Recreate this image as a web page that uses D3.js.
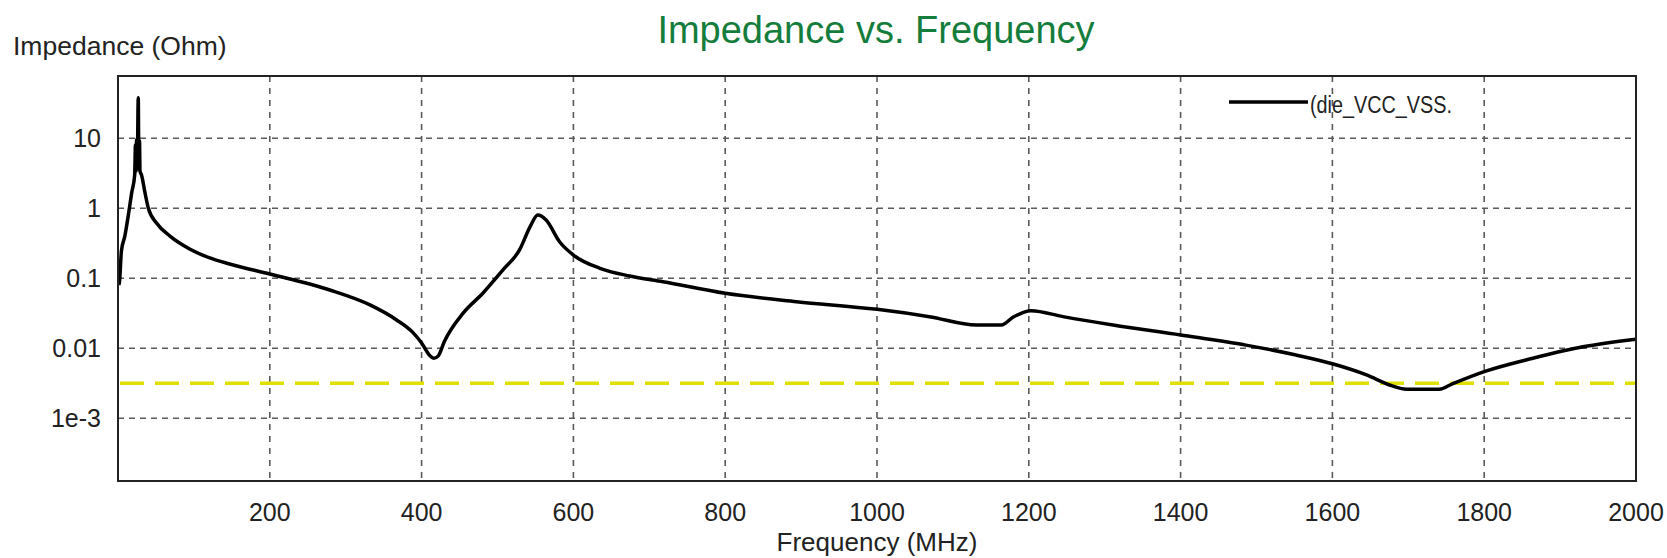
<!DOCTYPE html>
<html>
<head>
<meta charset="utf-8">
<script src="https://cdnjs.cloudflare.com/ajax/libs/d3/7.8.5/d3.min.js"></script>
<style>
  body { margin: 0; background: #fff; }
  svg { display: block; font-family: "Liberation Sans", Arial, sans-serif; }
</style>
</head>
<body>
<div id="chart"></div>
<script>
// frequency points (MHz) and impedance (Ohm)
var freqMHz = [1, 2, 4.5, 9, 13.5, 18, 22, 23, 23.8, 24.5, 25.3, 26.7, 27.5, 28.3, 29, 31, 35.6, 40, 51, 68.5, 95, 121, 147,
  200, 279, 332, 367, 389, 400, 411, 416, 422, 430, 455, 481, 507, 529, 543, 553, 564, 582, 600, 635, 674,
  718, 800, 894, 1000, 1069, 1131, 1164, 1179, 1203, 1245, 1311, 1400, 1486, 1552, 1600, 1644, 1679,
  1697, 1741, 1758, 1800, 1864, 1930, 2000];
var impedance = [0.08, 0.09, 0.245, 0.4, 0.78, 1.66, 3.0, 8, 3.4, 9.5, 3.6, 38, 3.8, 9.2, 3.4, 3.0, 1.66, 1.0, 0.61, 0.4, 0.26, 0.195, 0.16,
  0.115, 0.068, 0.0416, 0.0254, 0.0166, 0.0119, 0.0078, 0.0072, 0.0078, 0.0125, 0.032, 0.0617, 0.131, 0.254, 0.546, 0.8, 0.68, 0.33, 0.215, 0.139, 0.108,
  0.0894, 0.061, 0.0463, 0.036, 0.0283, 0.0215, 0.0215, 0.0277, 0.0344, 0.0283, 0.0215, 0.0155, 0.0111, 0.008, 0.006, 0.0042, 0.0029,
  0.0026, 0.0026, 0.0031, 0.00464, 0.0072, 0.0105, 0.0135];
var targetZ = 0.00316;

var xTicks = [200, 400, 600, 800, 1000, 1200, 1400, 1600, 1800, 2000];
var yTicks = [10, 1, 0.1, 0.01, 0.001];
var yTickLabels = ['10', '1', '0.1', '0.01', '1e-3'];
var seriesName = '(die_VCC_VSS.';

var width = 1667,
    height = 558,
    plotLeft = 118,
    plotRight = 1636,
    plotTop = 76,
    plotBottom = 481;

var svg = d3.select('#chart').append('svg')
    .attr('width', width)
    .attr('height', height);

var x = d3.scaleLinear().domain([0, 2000]).range([plotLeft, plotRight]);
var y = d3.scaleLog().domain([1.27e-4, 77.6]).range([plotBottom, plotTop]);

svg.append('defs').append('clipPath').attr('id', 'plot-clip')
  .append('rect')
    .attr('x', plotLeft).attr('y', plotTop)
    .attr('width', plotRight - plotLeft).attr('height', plotBottom - plotTop);

// grid
var grid = svg.append('g');
grid.selectAll('line.vg')
    .data(xTicks.filter(function(d) { return d < 2000; }))
  .enter().append('line')
    .attr('class', 'vg')
    .attr('x1', function(d) { return x(d); })
    .attr('x2', function(d) { return x(d); })
    .attr('y1', plotTop)
    .attr('y2', plotBottom)
    .style('stroke', '#5a5a5a')
    .style('stroke-width', 1.6)
    .style('stroke-dasharray', '6,6');
grid.selectAll('line.hg')
    .data(yTicks)
  .enter().append('line')
    .attr('class', 'hg')
    .attr('x1', plotLeft)
    .attr('x2', plotRight)
    .attr('y1', function(d) { return y(d); })
    .attr('y2', function(d) { return y(d); })
    .style('stroke', '#5a5a5a')
    .style('stroke-width', 1.6)
    .style('stroke-dasharray', '6,5');

// target impedance line
svg.append('line')
    .attr('x1', plotLeft + 2)
    .attr('x2', plotRight)
    .attr('y1', y(targetZ))
    .attr('y2', y(targetZ))
    .style('stroke', '#e0e000')
    .style('stroke-width', 3.6)
    .style('stroke-dasharray', '24,11');

// curve
var pts = freqMHz.map(function(f, i) { return [f, impedance[i]]; });
var line = d3.line()
    .x(function(d) { return x(d[0]); })
    .y(function(d) { return y(d[1]); })
    .curve(d3.curveMonotoneX);

svg.append('path')
    .datum(pts)
    .attr('clip-path', 'url(#plot-clip)')
    .attr('d', line)
    .style('fill', 'none')
    .style('stroke', '#000')
    .style('stroke-width', 3.5)
    .style('stroke-linejoin', 'round');

// frame
svg.append('rect')
    .attr('x', plotLeft).attr('y', plotTop)
    .attr('width', plotRight - plotLeft).attr('height', plotBottom - plotTop)
    .style('fill', 'none')
    .style('stroke', '#222')
    .style('stroke-width', 2);

// tick labels
svg.selectAll('text.xt')
    .data(xTicks)
  .enter().append('text')
    .attr('class', 'xt')
    .attr('x', function(d) { return x(d); })
    .attr('y', 521)
    .attr('text-anchor', 'middle')
    .style('font-size', '25px')
    .style('fill', '#222')
    .text(function(d) { return d; });

svg.selectAll('text.yt')
    .data(yTicks)
  .enter().append('text')
    .attr('class', 'yt')
    .attr('x', 101)
    .attr('y', function(d) { return y(d); })
    .attr('dy', '0.36em')
    .attr('text-anchor', 'end')
    .style('font-size', '25px')
    .style('fill', '#222')
    .text(function(d, i) { return yTickLabels[i]; });

// titles
svg.append('text')
    .attr('x', 876)
    .attr('y', 43)
    .attr('text-anchor', 'middle')
    .style('font-size', '38px')
    .style('fill', '#147d3c')
    .text('Impedance vs. Frequency');

svg.append('text')
    .attr('x', 13)
    .attr('y', 55)
    .style('font-size', '26.5px')
    .style('fill', '#222')
    .text('Impedance (Ohm)');

svg.append('text')
    .attr('x', 877)
    .attr('y', 551)
    .attr('text-anchor', 'middle')
    .style('font-size', '26px')
    .style('fill', '#222')
    .text('Frequency (MHz)');

// legend
svg.append('line')
    .attr('x1', 1229).attr('x2', 1308)
    .attr('y1', 102).attr('y2', 102)
    .style('stroke', '#000')
    .style('stroke-width', 3.5);
svg.append('text')
    .attr('x', 1310)
    .attr('y', 113)
    .attr('textLength', 142)
    .attr('lengthAdjust', 'spacingAndGlyphs')
    .style('font-size', '23px')
    .style('fill', '#222')
    .text(seriesName);
</script>
</body>
</html>
